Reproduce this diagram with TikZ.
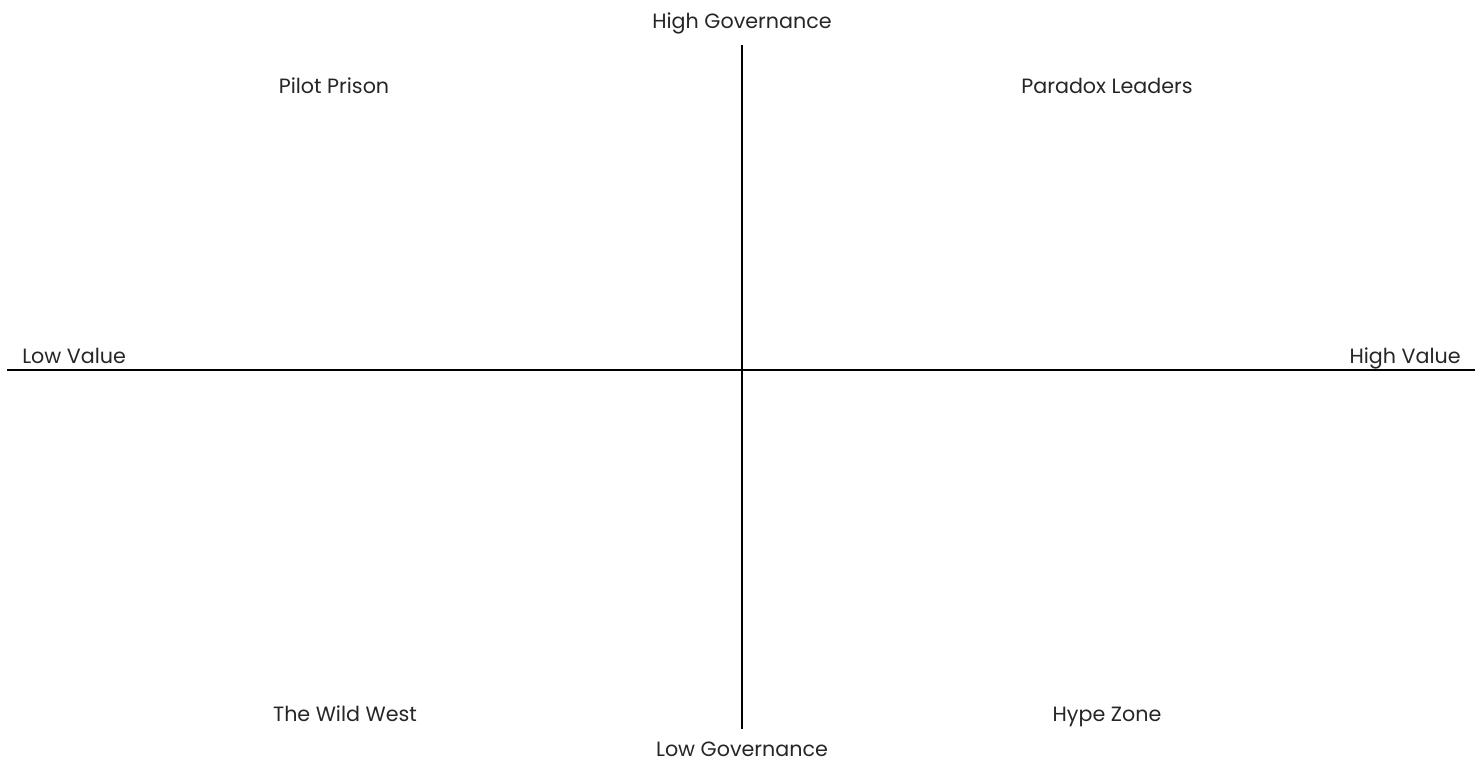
\documentclass[tikz,border=0pt]{standalone}
\usepackage{fontspec}
\setmainfont{Poppins}
\tikzset{
  quad axis/.style={black,line width=1.5pt},
  quad label/.style={font=\fontsize{15.5}{17}\selectfont,text=black!85,inner sep=0pt,anchor=base}
}

\begin{document}
\begin{tikzpicture}[x=0.75pt,y=-0.75pt]
  \useasboundingbox (0,0) rectangle (1482,762);
  % axes
  \coordinate (top) at (742,45);
  \coordinate (bot) at (742,729);
  \coordinate (lft) at (7,370);
  \coordinate (rgt) at (1475,370);
  \draw[quad axis] (top)--(bot);
  \draw[quad axis] (lft)--(rgt);

  % axis ends
  \node[quad label] (hg) at (742,29) {High Governance};
  \node[quad label] (lg) at (742,756) {Low Governance};
  \node[quad label,anchor=base west] (lv) at (22,364) {Low Value};
  \node[quad label,anchor=base east] (hv) at (1461,364) {High Value};

  % quadrants
  \node[quad label] (pp) at (334,94) {Pilot Prison};
  \node[quad label] (pl) at (1107,94) {Paradox Leaders};
  \node[quad label] (ww) at (345,721) {The Wild West};
  \node[quad label] (hz) at (1107,721) {Hype Zone};
\end{tikzpicture}
\end{document}
